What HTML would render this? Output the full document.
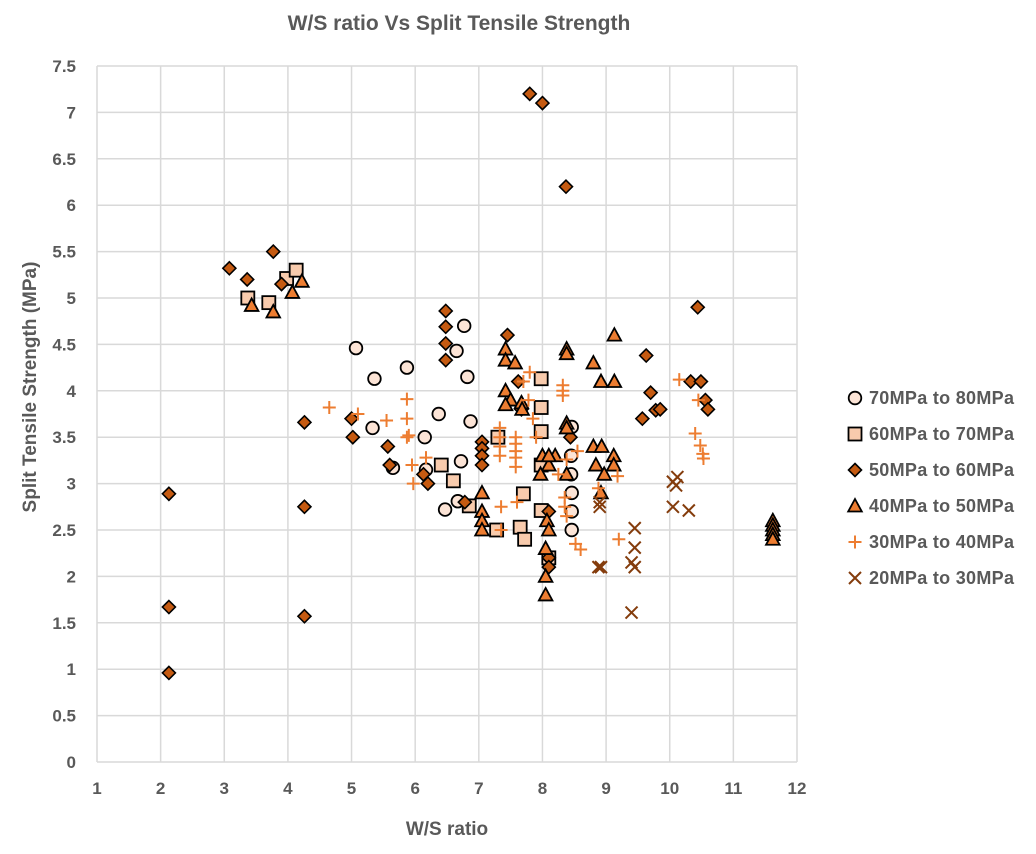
<!DOCTYPE html>
<html><head><meta charset="utf-8"><style>
body{margin:0;background:#fff;font-family:"Liberation Sans",sans-serif;}
</style></head><body>
<svg id="chart" width="1036" height="849" xmlns="http://www.w3.org/2000/svg" font-family="Liberation Sans, sans-serif">
<text x="459" y="30" text-anchor="middle" font-size="21" font-weight="bold" fill="#595959">W/S ratio Vs Split Tensile Strength</text>
<g id="grid"></g><g id="marks"></g><g id="legend"></g>
<text x="447" y="835" text-anchor="middle" font-size="19" font-weight="bold" fill="#595959">W/S ratio</text>
<text transform="translate(36,387) rotate(-90)" text-anchor="middle" font-size="19" font-weight="bold" fill="#595959">Split Tensile Strength (MPa)</text>
</svg>
<script>
const xTicks=[1,2,3,4,5,6,7,8,9,10,11,12];
const yTicks=[0,0.5,1,1.5,2,2.5,3,3.5,4,4.5,5,5.5,6,6.5,7,7.5];
const seriesNames=["70MPa to 80MPa","60MPa to 70MPa","50MPa to 60MPa","40MPa to 50MPa","30MPa to 40MPa","20MPa to 30MPa"];
const s70x=[5.07,5.36,5.87,6.65,6.77,6.82,6.37,6.87,5.33,6.15,5.65,6.17,6.72,6.67,6.47,8.46,8.45,8.45,8.46,8.46,8.46];
const s70y=[4.46,4.13,4.25,4.43,4.7,4.15,3.75,3.67,3.6,3.5,3.17,3.15,3.24,2.81,2.72,3.61,3.3,3.1,2.9,2.7,2.5];
const s60x=[3.37,3.7,3.98,4.13,6.41,6.6,6.85,7.3,7.28,7.65,7.7,7.72,7.98,7.98,7.98,7.98,7.98,8.1];
const s60y=[5.0,4.95,5.21,5.3,3.2,3.03,2.76,3.5,2.5,2.53,2.89,2.4,4.13,3.82,3.56,3.2,2.71,2.2];
const s50x=[2.13,2.13,2.13,3.08,3.36,3.77,3.9,4.26,4.26,4.26,5.0,5.02,5.57,5.6,6.13,6.2,6.48,6.48,6.48,6.48,6.78,7.05,7.05,7.05,7.05,7.45,7.62,7.67,7.8,8.0,8.37,8.44,8.1,8.1,8.1,9.63,9.7,9.57,9.78,9.85,10.33,10.49,10.56,10.6,10.44];
const s50y=[2.89,1.67,0.96,5.32,5.2,5.5,5.15,3.66,2.75,1.57,3.7,3.5,3.4,3.2,3.1,3.0,4.86,4.69,4.51,4.33,2.8,3.45,3.38,3.3,3.2,4.6,4.1,3.8,7.2,7.1,6.2,3.5,2.7,2.2,2.1,4.38,3.98,3.7,3.79,3.8,4.1,4.1,3.9,3.8,4.9];
const s40x=[3.43,3.77,4.07,4.22,7.05,7.05,7.05,7.05,7.42,7.42,7.57,7.42,7.5,7.42,7.67,7.68,8.38,8.38,8.38,8.38,8.38,8.8,8.92,9.13,9.13,8.0,8.1,8.2,7.97,8.1,8.07,8.1,8.05,8.05,8.05,8.8,8.93,9.12,8.84,9.12,8.97,8.92,11.62,11.62,11.62,11.62,11.62];
const s40y=[4.92,4.85,5.06,5.18,2.9,2.7,2.6,2.5,4.45,4.33,4.3,4.0,3.9,3.85,3.87,3.8,4.45,4.4,3.65,3.6,3.1,4.3,4.1,4.1,4.6,3.3,3.2,3.3,3.1,3.3,2.6,2.5,2.3,2.0,1.8,3.4,3.4,3.3,3.2,3.2,3.1,2.9,2.6,2.55,2.5,2.45,2.4];
const s30x=[4.65,5.1,5.55,5.87,5.87,5.87,5.9,5.95,5.97,6.17,7.33,7.33,7.33,7.33,7.35,7.35,7.58,7.58,7.58,7.58,7.58,7.6,7.7,7.78,7.8,7.85,7.9,8.32,8.32,8.32,8.25,8.38,8.55,8.35,8.35,8.38,8.52,8.6,8.88,9.18,9.2,10.15,10.4,10.45,10.48,10.52,10.53];
const s30y=[3.82,3.75,3.68,3.91,3.7,3.5,3.52,3.2,3.0,3.28,3.6,3.5,3.4,3.3,2.75,2.5,3.5,3.43,3.35,3.28,3.18,2.8,4.1,3.9,4.2,3.7,3.5,4.06,4.0,3.95,3.1,3.26,3.35,2.85,2.75,2.65,2.35,2.29,2.95,3.08,2.4,4.12,3.54,3.9,3.41,3.32,3.27];
const s20x=[8.88,8.92,8.9,8.9,9.45,9.45,9.4,9.45,9.4,10.05,10.12,10.1,10.05,10.3];
const s20y=[2.1,2.1,2.75,2.8,2.52,2.31,2.15,2.1,1.61,3.02,3.07,2.98,2.75,2.71];

const NS="http://www.w3.org/2000/svg";
const X0=97,X1=797,Y0=762,Y1=66;
const sx=v=>X0+(v-1)/(12-1)*(X1-X0);
const sy=v=>Y0-v/7.5*(Y0-Y1);
function mk(tag,attrs,parent){const e=document.createElementNS(NS,tag);for(const k in attrs)e.setAttribute(k,attrs[k]);parent.appendChild(e);return e;}
const grid=document.getElementById('grid');
xTicks.forEach(t=>{
  const l=mk('line',{x1:sx(t),x2:sx(t),y1:Y1,y2:Y0,stroke:'#d9d9d9','stroke-width':1.5},grid);
  
  
  const tx=mk('text',{x:sx(t),y:Y0+32,'text-anchor':'middle','font-size':17,'font-weight':'bold',fill:'#595959'},grid);
  tx.textContent=t;
  
  
});
yTicks.forEach(t=>{
  const l=mk('line',{x1:X0,x2:X1,y1:sy(t),y2:sy(t),stroke:'#d9d9d9','stroke-width':1.5},grid);
  
  
  const tx=mk('text',{x:X0-21,y:sy(t)+6,'text-anchor':'end','font-size':17,'font-weight':'bold',fill:'#595959'},grid);
  tx.textContent=t;
  
  
});
function marker(type,x,y,parent){
  let e;
  if(type==0)e=mk('circle',{cx:x,cy:y,r:6.3,fill:'#fce4d6',stroke:'#000','stroke-width':1.8},parent);
  else if(type==1)e=mk('rect',{x:x-6.5,y:y-6.5,width:13,height:13,fill:'#f8cbad',stroke:'#000','stroke-width':1.8},parent);
  else if(type==2)e=mk('path',{d:`M${x},${y-6.5}L${x+6.5},${y}L${x},${y+6.5}L${x-6.5},${y}Z`,fill:'#c55a11',stroke:'#000','stroke-width':1.6},parent);
  else if(type==3)e=mk('path',{d:`M${x},${y-7}L${x+6.8},${y+5.5}L${x-6.8},${y+5.5}Z`,fill:'#ed7d31',stroke:'#000','stroke-width':1.8},parent);
  else if(type==4)e=mk('path',{d:`M${x-6.5},${y}H${x+6.5}M${x},${y-6.5}V${y+6.5}`,stroke:'#ed7d31','stroke-width':2,fill:'none'},parent);
  else e=mk('path',{d:`M${x-6},${y-6}L${x+6},${y+6}M${x-6},${y+6}L${x+6},${y-6}`,stroke:'#843c0c','stroke-width':2,fill:'none'},parent);
  return e;
}
const marks=document.getElementById('marks');
const all=[[s70x,s70y],[s60x,s60y],[s50x,s50y],[s40x,s40y],[s30x,s30y],[s20x,s20y]];
all.forEach((s,i)=>{
  s[0].forEach((xv,j)=>{
    const e=marker(i,sx(xv),sy(s[1][j]),marks);
    
    
  });
});
const lg=document.getElementById('legend');
seriesNames.forEach((n,i)=>{
  const y=398+i*36;
  const m=marker(i,855,y,lg);
  
  
  const t=mk('text',{x:869,y:y+6,'font-size':18,'font-weight':'bold',fill:'#595959','letter-spacing':0.3},lg);
  t.textContent=n;
  
  
});
</script>
</body></html>
